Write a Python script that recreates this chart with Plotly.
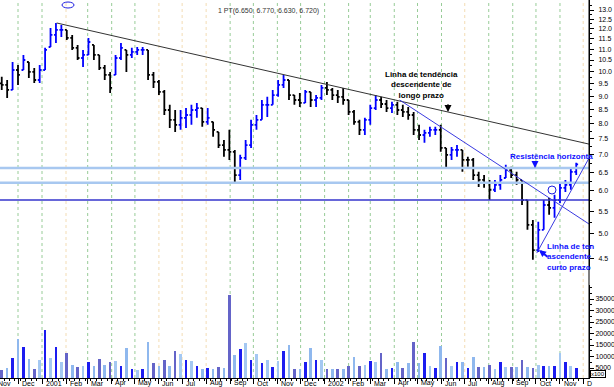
import pandas as pd
import plotly.graph_objects as go

# ---------------- data (weekly bars) ----------------
week_end = pd.date_range("2000-11-10", periods=107, freq="W-FRI")

high = [9.77, 9.64, 10.41, 10.28, 10.73, 10.41, 10.15, 10.28, 11.06, 12.04,
        12.30, 12.20, 11.94, 11.69, 11.20, 10.96, 11.54, 11.20, 10.73, 10.28,
        9.98, 10.73, 11.29, 10.96, 11.06, 11.10, 11.10, 10.96, 9.98, 9.64,
        9.24, 8.67, 8.48, 8.48, 8.55, 8.67, 8.74, 8.55, 8.55, 8.06,
        7.72, 7.46, 7.79, 7.15, 7.00, 7.46, 8.13, 8.30, 8.85, 8.97,
        9.24, 9.64, 9.85, 9.64, 9.04, 9.12, 9.24, 9.16, 9.04, 9.44,
        9.56, 9.32, 9.24, 9.32, 8.85, 8.48, 8.13, 8.20, 8.67, 9.04,
        8.97, 8.85, 8.78, 8.78, 8.67, 8.59, 8.41, 7.96, 7.79, 7.89,
        7.89, 7.96, 7.21, 7.24, 7.30, 7.15, 6.94, 6.91, 6.51, 6.42,
        6.29, 6.29, 6.42, 6.71, 6.65, 6.51, 6.29, 5.77, 5.30, 5.26,
        5.77, 5.82, 5.90, 6.21, 6.29, 6.62, 6.77]
low = [9.24, 8.93, 9.24, 9.44, 10.06, 9.72, 9.52, 9.52, 10.06, 11.10,
       11.29, 11.59, 11.44, 10.96, 10.50, 10.19, 10.73, 10.50, 10.06, 9.64,
       9.12, 9.85, 10.50, 9.98, 10.59, 10.73, 10.73, 9.64, 9.32, 9.04,
       8.30, 7.85, 7.72, 7.79, 7.85, 7.96, 8.20, 7.89, 7.96, 7.56,
       7.21, 6.94, 6.85, 6.21, 6.29, 6.85, 7.21, 7.79, 8.13, 8.23,
       8.67, 8.97, 9.32, 8.85, 8.67, 8.59, 8.74, 8.59, 8.59, 8.85,
       9.04, 8.85, 8.74, 8.67, 8.30, 7.96, 7.62, 7.62, 7.96, 8.48,
       8.55, 8.41, 8.37, 8.30, 8.23, 8.13, 7.62, 7.46, 7.37, 7.56,
       7.62, 7.09, 6.62, 6.85, 6.94, 6.51, 6.65, 6.29, 6.10, 6.08,
       5.77, 5.97, 6.03, 6.34, 6.34, 6.16, 5.65, 5.08, 4.47, 4.62,
       5.08, 5.42, 5.35, 5.70, 5.97, 6.03, 6.42]
close = [9.44, 9.24, 10.06, 9.85, 10.50, 9.98, 9.64, 10.06, 10.96, 11.69,
         11.94, 11.94, 11.54, 11.06, 10.59, 10.73, 11.34, 10.73, 10.15, 9.85,
         9.32, 10.59, 11.06, 10.73, 10.87, 10.96, 10.96, 9.85, 9.56, 9.16,
         8.48, 8.13, 7.96, 8.20, 8.30, 8.48, 8.55, 8.06, 8.20, 7.79,
         7.30, 7.15, 7.09, 6.42, 6.91, 7.30, 7.96, 8.13, 8.67, 8.67,
         9.04, 9.44, 9.64, 9.04, 8.85, 8.74, 9.16, 8.85, 8.93, 9.32,
         9.24, 9.04, 8.97, 8.85, 8.41, 8.06, 7.79, 8.13, 8.55, 8.85,
         8.70, 8.55, 8.67, 8.48, 8.41, 8.30, 7.79, 7.62, 7.69, 7.79,
         7.79, 7.21, 7.00, 7.15, 7.15, 6.85, 6.85, 6.42, 6.29, 6.21,
         6.03, 6.16, 6.29, 6.56, 6.42, 6.29, 5.77, 5.19, 4.66, 5.08,
         5.65, 5.58, 5.77, 6.08, 6.16, 6.51, 6.72]
first_open = 9.50
volume = [4100, 5000, 9400, 17600, 14100, 8900, 4500, 8500, 21500, 9400,
          14100, 7600, 11500, 6500, 5500, 6000, 7600, 6000, 8900, 6300,
          7600, 8000, 6000, 13700, 4500, 4100, 4500, 16300, 7200, 6000,
          8500, 6000, 12400, 11000, 8500, 8000, 5900, 4500, 5000, 4500,
          5500, 5000, 36800, 10700, 13200, 15900, 8500, 11100, 7000, 8500,
          5500, 8000, 12400, 15000, 4500, 4500, 7500, 13700, 8500, 8500,
          4500, 4500, 4500, 4500, 6000, 9800, 6000, 6300, 8000, 7500,
          11500, 4500, 5000, 7600, 5000, 7000, 16300, 7000, 11500, 6000,
          5000, 14500, 9400, 6000, 7600, 7600, 5000, 9800, 5500, 5500,
          6300, 4500, 7600, 5500, 5500, 5500, 8500, 5500, 5000, 6300,
          6000, 6000, 6000, 11500, 7600, 6000, 5000]

price_ticks = [4.5, 5.0, 5.5, 6.0, 6.5, 7.0, 7.5, 8.0, 8.5, 9.0, 9.5,
               10.0, 10.5, 11.0, 11.5, 12.0, 12.5, 13.0]
volume_ticks = [5000, 10000, 15000, 20000, 25000, 30000, 35000]
month_starts = pd.date_range("2000-11-01", "2002-12-01", freq="MS")
month_labels = ["Nov", "Dec", "2001", "Feb", "Mar", "Apr", "May", "Jun", "Jul",
                "Aug", "Sep", "Oct", "Nov", "Dec", "2002", "Feb", "Mar", "Apr",
                "May", "Jun", "Jul", "Aug", "Sep", "Oct", "Nov", "D"]
pale_grid_months = ["2001-02", "2001-06", "2001-07", "2001-08", "2002-07", "2002-12"]

resistance_light = [6.62, 6.21]
resistance_dark = 5.77
long_trend_x = ["2001-01-20", "2002-12-08 10:00"]
long_trend_y = [12.30, 7.33]
down_trend_x = ["2002-04-08", "2002-12-08 10:00"]
down_trend_y = [8.85, 5.21]
up_trend_x = ["2002-10-02", "2002-12-08 10:00"]
up_trend_y = [4.60, 6.90]
last_bar_text = "1 PT(6.650, 6.770, 6.630, 6.720)"

x_range = ["2000-11-07 18:00", "2002-12-08 12:00"]

# ---------------- build ----------------
opens = []
prev = first_open
for h, l, c in zip(high, low, close):
    opens.append(min(max(prev, l), h))
    prev = c

vol_colors = []
for i, (o, c) in enumerate(zip(opens, close)):
    if c >= o:
        vol_colors.append("#1c1cf0" if i % 2 == 0 else "#a4c8f2")
    else:
        vol_colors.append("#6464c8" if i % 2 == 0 else "#8fb8ee")

FONT = "Liberation Sans, Arial, sans-serif"
fig = go.Figure()

fig.add_trace(go.Ohlc(
    x=week_end, open=opens, high=high, low=low, close=close,
    increasing_line_color="#0000ff", decreasing_line_color="#000000",
    line_width=1.8, tickwidth=0.35, xaxis="x", yaxis="y", showlegend=False,
    hoverinfo="skip"))

fig.add_trace(go.Bar(
    x=week_end, y=volume, marker_color=vol_colors, marker_line_width=0,
    width=3.4 * 86400000, xaxis="x", yaxis="y2", showlegend=False,
    hoverinfo="skip"))

for lvl in resistance_light:
    fig.add_trace(go.Scatter(x=x_range, y=[lvl, lvl], mode="lines",
                             line=dict(color="#a8c8f0", width=2.5),
                             yaxis="y", showlegend=False, hoverinfo="skip"))
fig.add_trace(go.Scatter(x=x_range, y=[resistance_dark, resistance_dark], mode="lines",
                         line=dict(color="#3434cc", width=1.5),
                         yaxis="y", showlegend=False, hoverinfo="skip"))
fig.add_trace(go.Scatter(x=long_trend_x, y=long_trend_y, mode="lines",
                         line=dict(color="#333333", width=1),
                         yaxis="y", showlegend=False, hoverinfo="skip"))
fig.add_trace(go.Scatter(x=down_trend_x, y=down_trend_y, mode="lines",
                         line=dict(color="#3a3ae0", width=1),
                         yaxis="y", showlegend=False, hoverinfo="skip"))
fig.add_trace(go.Scatter(x=up_trend_x, y=up_trend_y, mode="lines",
                         line=dict(color="#3a3ae0", width=1),
                         yaxis="y", showlegend=False, hoverinfo="skip"))

shapes = []
for ms in month_starts:
    col = "#f3dcb4" if ms.strftime("%Y-%m") in pale_grid_months else "#98cc98"
    shapes.append(dict(type="line", xref="x", yref="paper", x0=ms, x1=ms, y0=0, y1=1,
                       line=dict(color=col, width=1, dash="dot"), layer="below"))
shapes.append(dict(type="line", xref="paper", yref="paper", x0=1, x1=1, y0=0, y1=1,
                   line=dict(color="#000000", width=1)))
shapes.append(dict(type="circle", xref="paper", yref="paper",
                   x0=548 / 589, x1=556 / 589, y0=1 - 194 / 378, y1=1 - 186 / 378,
                   line=dict(color="#2020e0", width=1)))
shapes.append(dict(type="circle", xref="paper", yref="paper",
                   x0=62 / 589, x1=74 / 589, y0=1 - 8 / 378, y1=1 - 2 / 378,
                   line=dict(color="#2020e0", width=1)))

annotations = []
x_start = pd.Timestamp(x_range[0])
for ms, lab in zip(month_starts, month_labels):
    pos = ms + pd.Timedelta(days=2)
    shift = 0
    if pos < x_start:
        shift = -(x_start - pos).total_seconds() / 86400 * 0.774
        pos = x_start
    annotations.append(dict(x=pos, y=-0.0135, xref="x", yref="paper", xshift=shift,
                            text=lab, showarrow=False, xanchor="left", yanchor="middle",
                            font=dict(family=FONT, size=7, color="#000000")))
annotations += [
    dict(x=268 / 589, y=1 - 5 / 378, xref="paper", yref="paper", text=last_bar_text,
         showarrow=False, font=dict(family=FONT, size=7, color="#333333")),
    dict(x=460 / 589, y=1 - 85 / 378, xref="paper", yref="paper",
         text="<b>Linha de tendência<br>descendente de<br>longo prazo</b>",
         showarrow=False, align="center", yanchor="middle",
         font=dict(family=FONT, size=8, color="#000000")),
    dict(x=448 / 589, y=1 - 112 / 378, xref="paper", yref="paper", text="",
         showarrow=True, ax=0, ay=-9, arrowhead=2, arrowwidth=2, arrowsize=0.7,
         arrowcolor="#000000"),
    dict(x=508 / 589, y=1 - 156 / 378, xref="paper", yref="paper",
         text="<b>Resistência horizonta</b>", showarrow=False,
         xanchor="left", yanchor="middle",
         font=dict(family=FONT, size=8, color="#1010ff")),
    dict(x=535 / 589, y=1 - 168 / 378, xref="paper", yref="paper", text="",
         showarrow=True, ax=0, ay=-8, arrowhead=2, arrowwidth=2, arrowsize=0.7,
         arrowcolor="#1010ff"),
    dict(x=545 / 589, y=1 - 257 / 378, xref="paper", yref="paper",
         text="<b>Linha de ten<br>ascendente<br>curto prazo</b>", showarrow=False,
         xanchor="left", yanchor="middle", align="left",
         font=dict(family=FONT, size=8, color="#1010ff")),
    dict(x=539 / 589, y=1 - 250 / 378, xref="paper", yref="paper", text="",
         showarrow=True, ax=10, ay=8, arrowhead=2, arrowwidth=2, arrowsize=0.7,
         arrowcolor="#1010ff"),
    dict(x=1.0, y=1 - 374 / 378, xref="paper", yref="paper", text="x100",
         showarrow=False, xanchor="left", yanchor="middle", xshift=1,
         bordercolor="#000000", borderwidth=1, borderpad=0, bgcolor="#ffffff",
         font=dict(family=FONT, size=6, color="#000000")),
]

fig.update_layout(
    width=614, height=387,
    margin=dict(l=0, r=25, t=0, b=9),
    paper_bgcolor="#ffffff", plot_bgcolor="#ffffff",
    showlegend=False, bargap=0,
    font=dict(family=FONT, size=7, color="#000000"),
    xaxis=dict(domain=[0, 1], range=x_range, type="date", anchor="y2",
               showgrid=False, zeroline=False, showline=True, linecolor="#000000",
               linewidth=1, ticks="outside", ticklen=5, tickcolor="#000000",
               tickvals=list(month_starts), showticklabels=False,
               minor=dict(ticks="outside", ticklen=2, tickcolor="#000000",
                          dtick=7 * 86400000, tick0="2000-11-06"),
               rangeslider=dict(visible=False)),
    yaxis=dict(type="log", domain=[0.286, 1], range=[0.63154, 1.13258],
               side="right", anchor="x", showgrid=False, zeroline=False,
               showline=True, linecolor="#000000", ticks="outside", ticklen=4,
               tickcolor="#000000", tickvals=price_ticks,
               ticktext=[f"{v:.1f}" for v in price_ticks],
               ticklabelstandoff=3,
               tickfont=dict(family=FONT, size=7),
               minor=dict(ticks="outside", ticklen=2, tickcolor="#000000",
                          tickvals=[v + 0.25 for v in price_ticks])),
    yaxis2=dict(domain=[0, 0.246], range=[652, 41087], side="right", anchor="x",
                showgrid=False, zeroline=False, showline=True, linecolor="#000000",
                ticks="outside", ticklen=4, tickcolor="#000000",
                tickvals=volume_ticks, ticktext=[str(v) for v in volume_ticks],
                tickfont=dict(family=FONT, size=7),
                minor=dict(ticks="outside", ticklen=2, tickcolor="#000000",
                           dtick=2500)),
    shapes=shapes, annotations=annotations,
)

fig.write_html("out.html", config={"displayModeBar": False},
               post_script="document.body.style.margin='0';document.body.style.overflow='hidden';")
